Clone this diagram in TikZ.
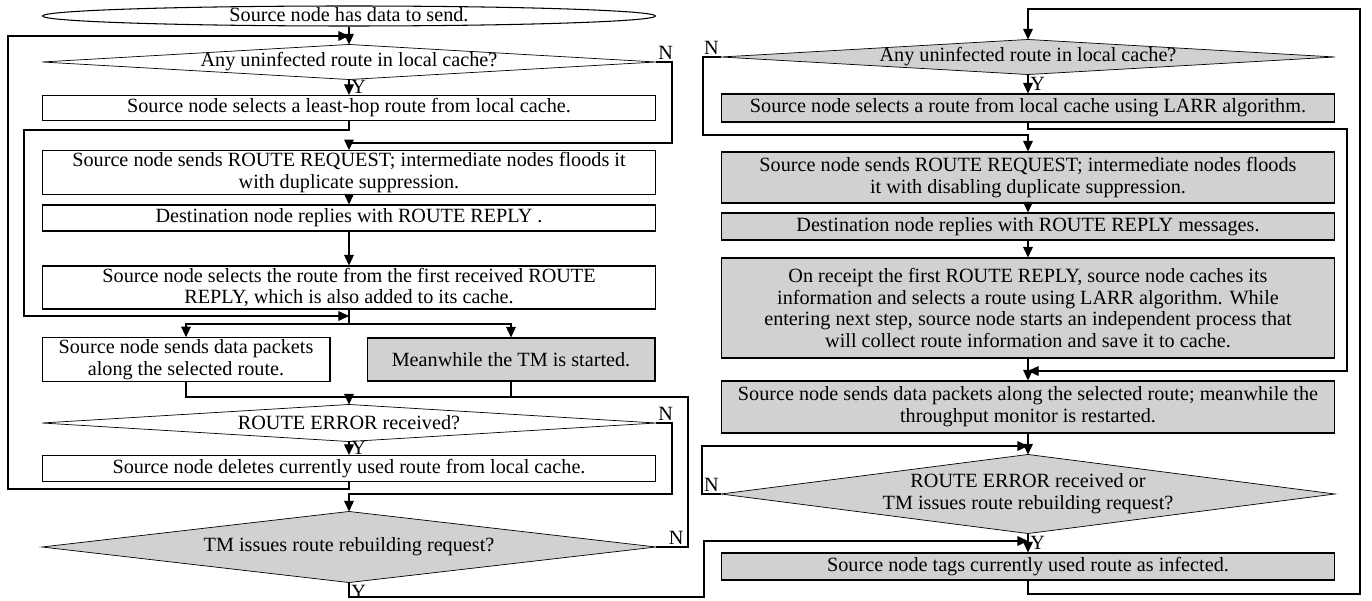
\documentclass[tikz,border=0pt]{standalone}
\usepackage{fontspec}
\setmainfont{Liberation Serif}
\usetikzlibrary{shapes.geometric, arrows.meta, backgrounds}

\begin{document}
\begin{tikzpicture}[x=0.02cm, y=-0.02cm, font=\fontsize{11.5}{12.4}\selectfont, line width=0.6pt]
    % Styles for the boxes and arrows
    \tikzstyle{process}=[rectangle, draw, align=center, inner sep=1pt, minimum width=12.26cm]
    \tikzstyle{grey process}=[process, fill=black!18]
    \tikzstyle{decision}=[rectangle, align=center, inner sep=0pt, minimum width=12.26cm]
    \tikzstyle{arr}=[-{Triangle[length=6pt,width=5.5pt]}]
    \tikzstyle{yn}=[inner sep=0pt]

    \useasboundingbox (0,0) rectangle (1372,601);

    % Left flow: plain route discovery with TM
    \node[ellipse, draw, minimum width=12.26cm, minimum height=0.4cm, inner sep=0pt, text height=6pt, text depth=0pt] (start) at (349,16) {Source node has data to send.};
    \node[decision, minimum height=0.68cm] (d1) at (349,62) {Any uninfected route in local cache?};
    \node[process, minimum height=0.5cm] (b2) at (349,108) {Source node selects a least-hop route from local cache.};
    \node[process, minimum height=0.82cm] (b3) at (349,172.5) {Source node sends ROUTE REQUEST; intermediate nodes floods it\\with duplicate suppression.};
    \node[process, minimum height=0.52cm] (b4) at (349,218) {Destination node replies with ROUTE REPLY .};
    \node[process, minimum height=0.86cm] (b5) at (349,287.5) {Source node selects the route from the first received ROUTE\\REPLY, which is also added to its cache.};
    \node[process, minimum width=5.76cm, minimum height=0.86cm] (b6a) at (186,359.5) {Source node sends data packets\\along the selected route.};
    \node[grey process, minimum width=5.76cm, minimum height=0.86cm] (b6b) at (511,359.5) {Meanwhile the TM is started.};
    \node[decision, minimum height=0.72cm] (d2) at (349,423) {ROUTE ERROR received?};
    \node[process, minimum height=0.52cm] (b7) at (349,468.5) {Source node deletes currently used route from local cache.};
    \node[decision, minimum height=1.4cm] (d3) at (349,547) {TM issues route rebuilding request?};

    % Right flow: LARR
    \node[decision, minimum height=0.68cm] (r1) at (1028,57) {Any uninfected route in local cache?};
    \node[grey process, minimum height=0.56cm] (r2) at (1028,108) {Source node selects a route from local cache using LARR algorithm.};
    \node[grey process, minimum height=1.02cm] (r3) at (1028,177.5) {Source node sends ROUTE REQUEST; intermediate nodes floods\\it with disabling duplicate suppression.};
    \node[grey process, minimum height=0.54cm] (r4) at (1028,226.5) {Destination node replies with ROUTE REPLY messages.};
    \node[grey process, minimum height=2cm] (r5) at (1028,308) {On receipt the first ROUTE REPLY, source node caches its\\information and selects a route using LARR algorithm. While\\entering next step, source node starts an independent process that\\will collect route information and save it to cache.};
    \node[grey process, minimum height=1.04cm] (r6) at (1028,407) {Source node sends data packets along the selected route; meanwhile the\\throughput monitor is restarted.};
    \node[decision, minimum height=1.56cm] (r7) at (1028,494) {ROUTE ERROR received or\\TM issues route rebuilding request?};
    \node[grey process, minimum height=0.54cm] (r8) at (1028,566.5) {Source node tags currently used route as infected.};

    % Diamond outlines behind the texts
    \begin{scope}[on background layer]
        \foreach \d/\c in {d1/white, d2/white, d3/black!18, r1/black!18, r7/black!18}
            \filldraw[fill=\c] (\d.west) -- (\d.north) -- (\d.east) -- (\d.south) -- cycle;
    \end{scope}

    % Junction points
    \coordinate (j1) at (349,36);
    \coordinate (j2) at (349,316);
    \coordinate (s1) at (349,324);
    \coordinate (m1) at (349,397);
    \coordinate (j6) at (1028,371);
    \coordinate (j7) at (1028,446);
    \coordinate (j8) at (1028,541);

    % Left connectors
    \draw[arr] (start.south) -- (d1.north);
    \draw[arr] (d1.south) -- node[yn, right=1pt] {Y} (b2.north);
    \draw[arr] (d1.east) node[yn, above right=1pt] {N} -| (672,143) -| (b3.north);
    \draw[arr] (b2.south) |- (24,130) |- (j2);
    \draw[arr] (b3.south) -- (b4.north);
    \draw[arr] (b4.south) -- (b5.north);
    \draw (b5.south) -- (s1);
    \draw[arr] (s1) -| (b6a.north);
    \draw[arr] (s1) -| (b6b.north);
    \draw (b6a.south) |- (m1);
    \draw (b6b.south) |- (m1);
    \draw[arr] (m1) -- (d2.north);
    \draw[arr] (d2.south) -- node[yn, right=1pt] {Y} (b7.north);
    \draw[arr] (d2.east) node[yn, above right=1pt] {N} -| (672,494) -| (d3.north);
    \draw[arr] (b7.south) |- (8,489) |- (j1);
    \draw (d3.east) node[yn, above right=1pt, xshift=6pt] {N} -| (688,397) -- (m1);
    \draw[arr] (d3.south) node[yn, below right=1pt] {Y} |- (704,597) |- (j8);

    % Right connectors
    \draw[arr] (r8.south) |- (1360,594) |- (1028,9) -- (r1.north);
    \draw[arr] (r1.south) -- node[yn, right=1pt] {Y} (r2.north);
    \draw[arr] (r1.west) node[yn, above left=1pt] {N} -| (703,135) -| (r3.north);
    \draw[arr] (r2.south) |- (1347,129) |- (j6);
    \draw[arr] (r3.south) -- (r4.north);
    \draw[arr] (r4.south) -- (r5.north);
    \draw[arr] (r5.south) -- (r6.north);
    \draw[arr] (r6.south) -- (r7.north);
    \draw[arr] (r7.west) node[yn, above left=1pt] {N} -| (702,446) -- (j7);
    \draw[arr] (r7.south) -- node[yn, right=1pt] {Y} (r8.north);

\end{tikzpicture}
\end{document}
